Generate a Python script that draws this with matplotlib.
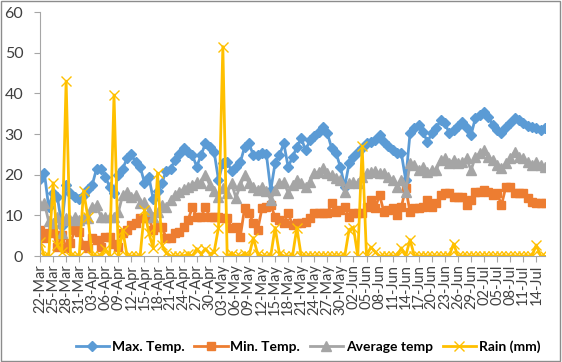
import numpy as np
import pandas as pd
import matplotlib
matplotlib.use('Agg')
import matplotlib.pyplot as plt
from matplotlib.patches import Rectangle

plt.rcParams['font.family'] = ['Lato', 'DejaVu Sans']

# daily values, 22-Mar to 16-Jul
dates = pd.date_range('2023-03-22', periods=117, freq='D')
day_labels = [d.strftime('%d-%b') for d in dates]

max_temp = [19, 20.5, 12, 15.5, 14.5, 7.5, 17.5, 15.5, 14.5, 14, 15, 16.5, 17.5, 21.5, 21.5, 19.5,
            17, 15.5, 20, 21.5, 24, 25, 23, 22, 18, 19.5, 14, 16, 18, 21, 21.5, 23.5,
            25, 26.5, 25.5, 24.8, 22, 24.8, 27.7, 26.8, 25.6, 18.7, 22.8, 23, 21, 22, 23, 26.8,
            27.7, 24.8, 24.8, 25.3, 25, 16.2, 22.8, 24.8, 27.7, 21.9, 24.3, 26.8, 29, 26, 28.5, 29.5,
            30.5, 31.7, 30.2, 26.5, 25.3, 21.9, 17, 22.8, 24.3, 25.6, 26.5, 27.7, 28, 28.5, 29.7, 28,
            27, 26, 25.3, 25.3, 18.7, 30.2, 31.4, 32.2, 30.5, 28, 30.2, 31.4, 33.4, 32.7, 30.2, 31,
            32, 32.9, 31.4, 29.7, 33.9, 34.6, 35.4, 34.2, 32.2, 31, 30.2, 31.7, 32.7, 33.9, 33.4, 32.7,
            32, 31.7, 31.4, 31, 31.4]

min_temp = [6.4, 4.4, 5.6, 5.9, 2.2, 5.2, 2, 3.2, 6.4, 6, 2.7, 2, 4.4, 3.9, 2.2, 4.7,
            4.7, 3, 2.2, 5.6, 6.4, 7.6, 8, 9.3, 9.3, 9.3, 6.4, 7.1, 7.1, 4.4, 4.4, 5.6,
            6, 7.1, 8.8, 12, 9.6, 9.6, 12, 9.6, 9.6, 9.6, 9.3, 9.3, 6.9, 7.1, 4.7, 11.8,
            10.6, 8.1, 6.4, 11.8, 12, 12.5, 9.6, 8.8, 8.1, 10.6, 7.6, 8.1, 8.1, 8.4, 9.3, 10.6,
            10.6, 10.6, 10.6, 13, 10.8, 11.3, 12, 9.6, 10.6, 10.6, 10.6, 12, 13.8, 11.8, 15, 10.8,
            11.3, 11.8, 10.1, 12, 16.7, 10.8, 11.8, 11.8, 12, 13.8, 12, 13, 15, 15.5, 15.5, 14.5,
            14.5, 14.5, 12.5, 13.8, 15.7, 15.7, 16.2, 15.7, 15, 15.5, 12.5, 17, 17, 15.5, 15.5, 15.5,
            14.3, 13.3, 13, 13, 13]

avg_temp = [12.5, 13, 8.5, 8, 9.6, 5.6, 9.3, 8.8, 9.6, 8.8, 9.3, 9.3, 12, 12.5, 9.6, 9.6,
            9.6, 9.6, 10.8, 15, 15.7, 14.5, 15, 13, 13.3, 11, 9.6, 10.8, 12.5, 12, 13.8, 15,
            15.7, 16.5, 17, 17.4, 18.2, 18, 19.9, 17.4, 16, 14.5, 16.7, 15.5, 17.9, 14.3, 17.4, 19.9,
            18, 17, 16.2, 17, 16, 13.8, 16.2, 17.9, 18.2, 15.5, 17.4, 18.7, 18, 17, 18.2, 20.4,
            20.6, 21.6, 20.4, 19.8, 19.2, 18.7, 15.7, 17.9, 18.2, 17.9, 19.4, 20.4, 20.6, 21, 20.4, 20.4,
            19.5, 18.7, 17, 18.7, 15.7, 22.8, 22.4, 21.1, 21.9, 20.6, 21.1, 21.1, 23.6, 24, 22.8, 23.6,
            22.8, 23, 24, 21.1, 24.3, 25.3, 26, 24.3, 23.6, 22.5, 21.6, 22.8, 24, 25.6, 24.3, 24,
            23, 22.4, 23, 22.4, 22]

rain = [3.4, 0, 0, 18, 2.7, 1, 43, 0, 0, 0, 16, 9.5, 0, 0, 0, 1.8,
        0, 39.6, 0, 6.4, 0, 0, 0, 0, 11.3, 5.6, 2, 20.4, 2.7, 0.7, 0, 0,
        0, 0, 0.5, 0, 1.8, 0.5, 1.8, 0.5, 1, 7, 51.5, 0, 0.5, 0, 0, 0.5,
        0, 4.5, 0.5, 0, 0, 0, 7, 0.5, 0, 0, 0, 7, 0, 0, 0, 0,
        0, 0, 0, 0, 0, 0, 0, 6.5, 7, 0, 27, 0, 2.2, 1, 0, 0,
        0, 0, 0, 2, 0, 4, 0, 0, 0, 0, 0, 0, 0, 0, 0, 3,
        0, 0, 0, 0, 0, 0, 0, 0, 0, 0, 0, 0, 0, 0, 0, 0,
        0, 0, 2.7, 0, 0]

x = np.arange(len(dates))

fig = plt.figure(figsize=(5.62, 3.62), dpi=100)
ax = fig.add_axes([40 / 562, 106 / 362, 505 / 562, 244 / 362])

ax.plot(x, max_temp, color='#5B9BD5', lw=2, marker='D', ms=5.5, label='Max. Temp.')
ax.plot(x, min_temp, color='#ED7D31', lw=2, marker='s', ms=6, label='Min. Temp.')
ax.plot(x, avg_temp, color='#A5A5A5', lw=2, marker='^', ms=7, label='Average temp')
ax.plot(x, rain, color='#FFC000', lw=2, marker='x', ms=7, mew=1, label='Rain (mm)')

ax.set_xlim(0, len(dates) - 1)
ax.set_ylim(0, 60)
ax.set_yticks(range(0, 61, 10))
ax.set_xticks(x[::3])
ax.set_xticklabels(day_labels[::3], rotation=90, fontsize=10.5, color='#404040')
ax.tick_params(axis='y', labelsize=11.5, colors='#404040', length=4, color='#A6A6A6', pad=8)
ax.tick_params(axis='x', length=4, color='#A6A6A6', pad=2)

for s in ['top', 'right']:
    ax.spines[s].set_visible(False)
ax.spines['left'].set_color('#A6A6A6')
ax.spines['bottom'].set_color('#A6A6A6')

fig.legend(loc='center', bbox_to_anchor=(0.548, 0.042), ncol=4, frameon=False,
           prop={'weight': 'bold', 'size': 10}, handlelength=2.4, columnspacing=0.7,
           handletextpad=0.2)

fig.patches.append(Rectangle((0.002, 0.003), 0.995, 0.994, transform=fig.transFigure,
                             fill=False, edgecolor='#8C8C8C', lw=1))

fig.savefig('out.png', dpi=100)
